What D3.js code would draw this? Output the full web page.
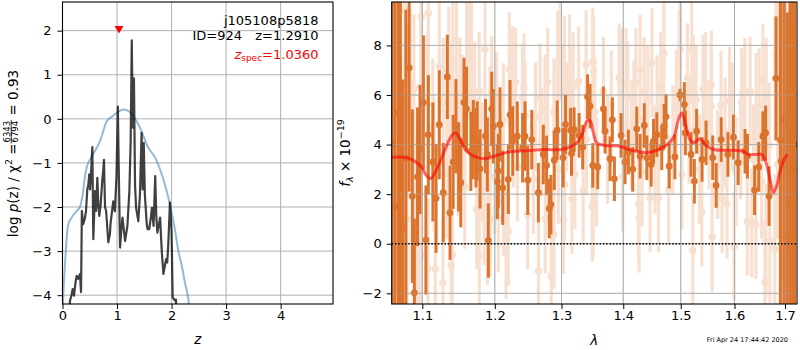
<!DOCTYPE html>
<html>
<head>
<meta charset="utf-8">
<script src="https://cdn.jsdelivr.net/npm/d3@7"></script>
<style>
  body { margin: 0; background: #fff; }
  text { font-family: "DejaVu Sans", sans-serif; }
</style>
</head>
<body>
<div id="chart"></div>
<script>
// ---- p(z) panel ----
var pzZ   = [0.10, 0.138, 0.165, 0.187, 0.211, 0.24, 0.26, 0.29, 0.32, 0.34, 0.355, 0.38, 0.413, 0.431, 0.455, 0.474, 0.49, 0.505, 0.525, 0.547, 0.565, 0.58, 0.596, 0.615, 0.639, 0.655, 0.675, 0.70, 0.73, 0.745, 0.76, 0.78, 0.80, 0.84, 0.87, 0.88, 0.93, 0.96, 0.99, 1.015, 1.03, 1.055, 1.08, 1.10, 1.147, 1.19, 1.226, 1.25, 1.27, 1.29, 1.31, 1.33, 1.35, 1.39, 1.42, 1.45, 1.47, 1.49, 1.51, 1.545, 1.56, 1.59, 1.62, 1.64, 1.67, 1.70, 1.72, 1.74, 1.79, 1.82, 1.85, 1.90, 1.92, 1.94, 1.97, 2.00, 2.02, 2.06, 2.08, 2.10];
var pzLog = [-5.0, -4.12, -4.0, -3.86, -4.01, -3.7, -3.56, -3.63, -3.52, -3.93, -2.09, -2.39, -2.24, -2.09, -1.6, -1.49, -1.26, -1.6, -1.2, -0.64, -2.73, -2.2, -1.64, -2.09, -1.34, -1.9, -2.2, -1.94, -1.38, -1.2, -0.93, -2.0, -2.09, -2.8, -2.6, -2.39, -1.87, -2.1, -1.3, 0.28, -1.0, -2.92, -2.5, -2.24, -2.77, -2.43, -1.64, -0.5, 1.78, -0.2, 0.92, -1.5, -2.02, -2.32, -1.72, -0.32, -1.6, -0.55, -1.72, -2.39, -2.5, -2.5, -2.24, -2.02, -2.43, -1.3, -2.2, -2.58, -2.24, -3.0, -3.52, -3.18, -3.26, -2.84, -1.9, -2.54, -4.05, -4.12, -4.1, -4.6];
var smoothZ   = [0.0, 0.015, 0.046, 0.077, 0.106, 0.169, 0.26, 0.32, 0.37, 0.41, 0.444, 0.54, 0.69, 0.81, 0.93, 1.12, 1.24, 1.42, 1.57, 1.70, 1.79, 1.88, 1.97, 2.06, 2.125, 2.19, 2.25, 2.31, 2.34];
var smoothLog = [-4.6, -4.0, -3.3, -2.69, -2.39, -2.24, -2.09, -2.0, -1.72, -1.33, -1.1, -0.85, -0.5, -0.06, 0.07, 0.21, 0.15, -0.2, -0.65, -0.88, -1.15, -1.5, -1.94, -2.5, -3.0, -3.35, -3.75, -4.12, -4.5];
var zBest = 1.2910, zSpec = 1.0360, zSpecMark = 2.05;
var zTicks = [0, 1, 2, 3, 4];
var pzTicks = [-4, -3, -2, -1, 0, 1, 2];

// ---- spectrum panel: main spectrum (dark) ----
var specWave = [1.061, 1.0645, 1.0687, 1.0715, 1.0746, 1.0785, 1.0827, 1.0869, 1.0895, 1.0937, 1.097, 1.1014, 1.1047, 1.108, 1.114, 1.1183, 1.1226, 1.128, 1.1335, 1.1372, 1.1415, 1.1453, 1.149, 1.152, 1.1564, 1.1599, 1.166, 1.1694, 1.1731, 1.1749, 1.1789, 1.1867, 1.1893, 1.1907, 1.1955, 1.1979, 1.2036, 1.2051, 1.2075, 1.2114, 1.2196, 1.2221, 1.226, 1.2328, 1.2407, 1.2443, 1.2484, 1.2544, 1.2644, 1.2719, 1.277, 1.281, 1.2836, 1.2887, 1.2933, 1.3025, 1.3063, 1.3143, 1.3157, 1.3198, 1.3278, 1.3335, 1.3413, 1.3453, 1.3497, 1.3578, 1.367, 1.3698, 1.378, 1.3818, 1.3852, 1.3963, 1.403, 1.4086, 1.416, 1.4229, 1.4286, 1.4358, 1.4402, 1.4477, 1.4517, 1.4576, 1.4662, 1.4703, 1.4738, 1.4794, 1.4895, 1.4988, 1.5065, 1.5084, 1.5187, 1.5247, 1.5289, 1.5389, 1.5463, 1.5587, 1.5651, 1.5746, 1.5874, 1.598, 1.607, 1.6204, 1.625, 1.6391, 1.6472, 1.6555, 1.6609, 1.6677, 1.6818, 1.6905, 1.6919, 1.6985, 1.7047, 1.7103, 1.715, 1.7195];
var specFlux = [4.0, 1.5, 5.28, 3.0, 0.62, 3.44, 7.1, 1.92, -1.98, 2.7, 3.8, 5.7, 0.15, 4.4, 3.3, 1.83, 4.8, 2.06, 6.73, 1.25, 3.3, 4.74, 3.1, 2.46, 5.7, 5.44, 3.73, 4.2, 3.87, 4.14, 3.02, 4.34, 3.6, 0.13, 5.44, 4.74, 2.5, 2.93, 4.81, 2.26, 2.6, 5.2, 4.14, 4.34, 3.87, 4.34, 2.56, 4.2, 2.06, 3.6, 3.16, 1.42, 1.58, 3.37, 4.58, 3.47, 4.81, 4.58, 3.64, 4.6, 4.37, 3.9, 5.93, 5.55, 3.16, 3.1, 5.44, 4.54, 3.43, 5.0, 2.62, 4.37, 3.3, 3.7, 3.0, 4.63, 3.53, 4.77, 3.47, 3.2, 4.14, 4.4, 3.87, 4.74, 5.12, 3.13, 3.5, 6.0, 5.62, 4.47, 3.6, 2.52, 4.54, 3.4, 4.07, 3.47, 2.35, 4.2, 3.6, 4.3, 3.27, 3.73, 3.53, 2.16, 3.1, 4.34, 4.47, 1.92, 6.67, 4.18, 3.33, 5.0, 0.33, 1.58, 1.79, 4.0];
var specErr  = [9, 9, 8, 7, 6, 6, 5, 3.5, 3, 2.8, 2.6, 2.7, 2.2,
                2.4, 2.4, 2.2, 2.2, 2.0, 1.7, 1.9, 1.9, 1.9, 1.8, 1.8, 1.8, 1.7,
                1.6, 1.6, 1.6, 1.6, 1.6,
                1.5, 1.5, 1.5, 1.5, 1.5, 1.5, 1.5, 1.5, 1.5,
                1.4, 1.4, 1.4, 1.4, 1.4, 1.4, 1.4,
                1.2, 1.2, 1.2, 1.2, 1.2, 1.2, 1.2, 1.2, 1.2, 1.2,
                0.9, 0.9, 0.9, 0.9, 0.9, 0.9, 0.9, 0.9, 0.9, 0.9,
                0.9, 0.9, 0.9, 0.9, 0.9, 0.9, 0.9, 0.9, 0.9, 0.9,
                0.9, 0.9, 0.9, 0.9, 0.9, 0.9, 0.9, 0.9, 0.9, 0.9,
                0.25,
                0.9, 0.9, 0.9, 0.9, 0.9, 0.9, 0.9, 0.9, 0.9, 0.9, 0.9, 0.9, 0.9, 0.9, 0.9,
                1.0, 1.0, 1.0, 1.1, 1.2, 2.5,
                8, 8, 9, 9, 9, 9, 9];

// ---- spectrum panel: second spectrum (faint) ----
var spec2Wave = [1.066, 1.072, 1.077, 1.08, 1.081, 1.0847, 1.089, 1.0902, 1.0915, 1.0937, 1.095, 1.097, 1.098, 1.0982, 1.0985, 1.1064, 1.1074, 1.108, 1.1139, 1.1155, 1.1172, 1.1226, 1.1275, 1.128, 1.133, 1.1355, 1.1372, 1.1387, 1.1405, 1.141, 1.146, 1.1483, 1.1508, 1.1545, 1.1575, 1.16, 1.1636, 1.1663, 1.167, 1.1713, 1.1742, 1.1777, 1.1778, 1.182, 1.1846, 1.186, 1.1893, 1.1907, 1.1931, 1.1935, 1.1955, 1.1998, 1.2026, 1.2051, 1.2124, 1.2128, 1.2162, 1.2196, 1.221, 1.2255, 1.2269, 1.2304, 1.233, 1.2405, 1.2428, 1.2445, 1.2482, 1.257, 1.26, 1.2645, 1.2669, 1.269, 1.2745, 1.2749, 1.2786, 1.2841, 1.2882, 1.2883, 1.294, 1.295, 1.298, 1.3025, 1.3031, 1.3045, 1.3048, 1.3078, 1.3125, 1.3157, 1.3163, 1.3183, 1.321, 1.327, 1.3342, 1.339, 1.3395, 1.3488, 1.3496, 1.3504, 1.351, 1.353, 1.356, 1.367, 1.374, 1.38, 1.393, 1.397, 1.399, 1.4048, 1.4075, 1.414, 1.418, 1.4215, 1.4256, 1.4268, 1.4286, 1.432, 1.4356, 1.442, 1.4458, 1.449, 1.4545, 1.458, 1.4605, 1.4644, 1.47, 1.4784, 1.486, 1.492, 1.497, 1.499, 1.502, 1.512, 1.515, 1.52, 1.5219, 1.5228, 1.5279, 1.534, 1.5384, 1.5406, 1.5455, 1.552, 1.556, 1.5561, 1.5575, 1.568, 1.5744, 1.5763, 1.582, 1.5857, 1.5905, 1.5958, 1.5993, 1.603, 1.612, 1.6138, 1.6161, 1.62, 1.6247, 1.6302, 1.6332, 1.637, 1.6416, 1.642, 1.648, 1.653, 1.6555, 1.6595, 1.6615, 1.662, 1.668, 1.6694, 1.68, 1.6793, 1.6818, 1.685, 1.686, 1.692, 1.695, 1.699, 1.704, 1.708, 1.718];
var spec2Flux = [4.0, 2.5, 9.45, 1.0, 5.88, 6.49, 6.25, 1.45, -0.03, -1.48, 1.88, 0.65, 6.35, -0.47, 9.15, 5.62, -1.0, 9.3, 4.68, 3.2, -1.03, 7.16, -1.57, 5.7, 2.8, 6.96, 5.52, -0.87, -0.43, 7.4, 8.2, 3.6, 5.82, 5.12, 2.3, 7.36, 7.46, 6.49, 7.5, 5.75, 1.38, 6.15, -0.47, 3.3, 1.45, 7.83, 0.65, 1.56, 4.85, 0.98, 6.09, 2.7, 5.44, 1.04, 4.98, 1.69, -0.03, 0.51, 7.03, 6.49, 4.47, 6.52, 3.1, 5.88, 6.29, 5.15, 1.18, 2.6, 5.12, -1.1, 5.88, 4.1, 5.42, 1.0, 6.52, -1.3, 0.4, 5.28, 7.19, 3.0, 8.0, 5.88, 0.98, 7.0, 2.39, 5.12, 7.05, 5.66, 1.79, 6.33, 2.8, 6.56, 2.15, 7.23, 4.2, 1.48, 7.33, 1.65, 6.96, 5.3, 2.9, 6.15, 3.8, 5.6, 6.69, 6.49, 2.7, 6.49, 5.95, 4.4, 5.2, 6.49, 1.61, 1.04, 7.03, 2.9, 6.15, 5.8, 1.85, 7.3, 3.4, 5.4, 1.85, 6.33, 7.67, 2.19, 4.2, 5.6, 7.23, 7.83, 2.8, 6.69, 4.6, 7.83, -0.27, 6.22, 5.82, 3.0, 1.29, 6.22, 6.33, 4.4, 6.4, 5.55, 0.28, 3.2, 5.58, 1.83, 4.5, 1.61, 5.75, 5.12, -0.1, 2.9, 4.0, 5.69, 5.35, 6.1, 0.91, 6.15, 0.85, 3.4, 0.78, 5.5, 5.58, 2.5, 6.58, -1.55, 0.1, 6.0, 4.0, 0.1, 6.65, -0.2, 7.67, 3.2, 7.94, 9.04, 2.0, 7.46, 6.83, 4.5, 3.0];
var spec2Err  = [6, 5, 3, 4, 3, 3, 3, 3, 3, 3,
                 3, 3, 3, 3, 3, 2.8, 2.8, 3, 2.8, 2.7,
                 2.7, 2.8, 2.6, 2.6, 2.6, 2.6, 2.6, 2.5, 2.5, 2.6,
                 2.5, 2.5, 2.5, 2.5, 2.5, 2.5, 2.4, 2.4, 2.4, 2.4,
                 2.4, 2.4, 2.4, 2.4, 2.3, 2.4, 2.3, 2.3, 2.3, 2.3,
                 2.3, 2.3, 2.3, 2.2, 2.3, 2.2, 2.2, 2.2, 2.3, 2.3,
                 2.2, 2.2, 2.2, 2.2, 2.2, 2.2, 2.2, 2.2, 2.2, 2.2,
                 2.2, 2.2, 2.2, 2.2, 2.2, 2.2, 2.2, 2.2, 2.2, 2.2,
                 2.2, 2.2, 2.2, 2.2, 2.2, 2.2, 2.2, 2.2, 2.2, 2.2,
                 2.2, 2.2, 2.2, 2.2, 2.2, 2.2, 2.2, 2.2, 2.2, 2.2,
                 2.2, 2.2, 2.2, 2.2, 2.2, 2.2, 2.2, 2.2, 2.2, 2.2,
                 2.2, 2.2, 2.2, 2.2, 2.2, 2.2, 2.2, 2.2, 2.2, 2.2,
                 2.2, 2.2, 2.2, 2.2, 2.2, 2.2, 2.2, 2.2, 2.2, 2.2,
                 2.2, 2.2, 2.2, 2.2, 2.2, 2.2, 2.2, 2.2, 2.2, 2.2,
                 2.2, 2.2, 2.2, 2.2, 2.2, 2.2, 2.2, 2.2, 2.2, 2.2,
                 2.2, 2.2, 2.2, 2.2, 2.2, 2.2, 2.2, 2.2, 2.2, 2.2,
                 2.2, 2.2, 2.2, 2.2, 2.3, 2.3, 2.3, 2.5, 2.3, 2.3,
                 2.5, 2.5, 2.5, 3, 3, 3, 3, 3.5, 3.5, 3.5,
                 4, 5, 6];

// ---- model (best fit template) ----
var modelWave = [1.0603, 1.0623, 1.0797, 1.097, 1.1058, 1.1111, 1.1191, 1.1304, 1.1396, 1.1452, 1.1508, 1.1601, 1.1717, 1.186, 1.2027, 1.2221, 1.2518, 1.2745, 1.3002, 1.316, 1.3266, 1.3346, 1.3401, 1.3453, 1.3507, 1.3562, 1.3698, 1.3919, 1.4144, 1.4402, 1.4576, 1.472, 1.4868, 1.4959, 1.5019, 1.5079, 1.5169, 1.523, 1.5352, 1.5445, 1.5599, 1.5979, 1.6172, 1.6269, 1.64, 1.6531, 1.6617, 1.6697, 1.6764, 1.6832, 1.6899, 1.7001, 1.7055];
var modelFlux = [3.48, 3.49, 3.47, 3.16, 2.73, 2.63, 3.0, 3.8, 4.37, 4.47, 4.23, 3.73, 3.51, 3.43, 3.56, 3.71, 3.76, 3.8, 3.8, 3.94, 4.14, 4.54, 4.94, 4.97, 4.47, 4.07, 3.96, 3.94, 3.77, 3.67, 3.77, 3.94, 4.27, 5.01, 5.28, 4.88, 4.2, 4.07, 4.23, 4.0, 3.8, 3.77, 3.73, 3.6, 3.6, 3.6, 3.27, 2.59, 2.06, 2.35, 2.93, 3.47, 3.6];
var waveTicks = [1.1, 1.2, 1.3, 1.4, 1.5, 1.6, 1.7];
var fluxTicks = [-2, 0, 2, 4, 6, 8];

var stamp = "Fri Apr 24 17:44:42 2020";

var width = 800, height = 350;
var svg = d3.select("#chart").append("svg")
    .attr("width", width)
    .attr("height", height);

var orange = "#d9681b";
var gridColor = "#b0b0b0";

// ================= left panel =================
var L = {l: 62.5, r: 333, t: 2, b: 304};
var xz = d3.scaleLinear().domain([0, 4.96]).range([L.l, L.r]);
var yz = d3.scaleLinear().domain([-4.2, 2.65]).range([L.b, L.t]);

svg.append("clipPath").attr("id", "clipL")
  .append("rect").attr("x", L.l).attr("y", L.t).attr("width", L.r - L.l).attr("height", L.b - L.t);

var gl = svg.append("g");
gl.selectAll(".gx").data(zTicks).enter().append("line")
  .attr("x1", d => xz(d)).attr("x2", d => xz(d)).attr("y1", L.t).attr("y2", L.b)
  .attr("stroke", gridColor).attr("stroke-width", 1);
gl.selectAll(".gy").data(pzTicks).enter().append("line")
  .attr("x1", L.l).attr("x2", L.r).attr("y1", d => yz(d)).attr("y2", d => yz(d))
  .attr("stroke", gridColor).attr("stroke-width", 1);

var plotL = svg.append("g").attr("clip-path", "url(#clipL)");

// smooth curve
plotL.append("path")
  .datum(d3.zip(smoothZ, smoothLog))
  .attr("fill", "none")
  .attr("stroke", "#1f77b4").attr("stroke-opacity", 0.5)
  .attr("stroke-width", 2)
  .attr("d", d3.line().x(d => xz(d[0])).y(d => yz(d[1])).curve(d3.curveMonotoneX));

// p(z) curve
plotL.append("path")
  .datum(d3.zip(pzZ, pzLog))
  .attr("fill", "none")
  .attr("stroke", "#000").attr("stroke-opacity", 0.75)
  .attr("stroke-width", 2.2)
  .attr("stroke-linejoin", "round")
  .attr("d", d3.line().x(d => xz(d[0])).y(d => yz(d[1])));

// z_spec marker
svg.append("path")
  .attr("d", d3.symbol().type(d3.symbolTriangle).size(34)())
  .attr("transform", "translate(" + xz(zSpec) + "," + yz(zSpecMark) + ") rotate(180)")
  .attr("fill", "red");

svg.append("g").attr("transform", "translate(0," + L.b + ")")
  .call(d3.axisBottom(xz).tickValues(zTicks).tickSize(5).tickPadding(1.5).tickFormat(d3.format("d")))
  .call(g => g.select(".domain").remove())
  .selectAll("text").attr("font-size", 13).attr("fill", "#000");
svg.append("g").attr("transform", "translate(" + L.l + ",0)")
  .call(d3.axisLeft(yz).tickValues(pzTicks).tickSize(5).tickPadding(6).tickFormat(d3.format("d")))
  .call(g => g.select(".domain").remove())
  .selectAll("text").attr("font-size", 13).attr("fill", "#000");

svg.append("rect").attr("x", L.l).attr("y", L.t).attr("width", L.r - L.l).attr("height", L.b - L.t)
  .attr("fill", "none").attr("stroke", "#000").attr("stroke-width", 1.1);

// annotation
svg.append("text").attr("x", 318.5).attr("y", 24.5).attr("text-anchor", "end")
  .attr("font-size", 13).text("j105108p5818");
svg.append("text").attr("x", 242).attr("y", 39.5).attr("text-anchor", "end")
  .attr("font-size", 13).text("ID=924");
svg.append("text").attr("x", 318.5).attr("y", 39.5).attr("text-anchor", "end")
  .attr("font-size", 13).text("z=" + zBest.toFixed(4));
var zs = svg.append("text").attr("x", 318.5).attr("y", 58.5).attr("text-anchor", "end")
  .attr("font-size", 13).attr("fill", "red");
zs.append("tspan").attr("font-style", "italic").text("z");
zs.append("tspan").attr("font-size", 9).attr("dy", 2.5).text("spec");
zs.append("tspan").attr("dy", -2.5).text("=" + zSpec.toFixed(4));

// x label
svg.append("text").attr("x", (L.l + L.r) / 2).attr("y", 344).attr("text-anchor", "middle")
  .attr("font-size", 13.5).attr("font-style", "italic").text("z");

// y label with fraction
var ylab = svg.append("g");
var t1 = ylab.append("text").attr("font-size", 13.5);
t1.append("tspan").text("log ");
t1.append("tspan").attr("font-style", "italic").text("p");
t1.append("tspan").text("(z) / χ");
t1.append("tspan").attr("font-size", 9.5).attr("dy", -5.5).text("2");
t1.append("tspan").attr("dy", 5.5).text(" = ");
var w1 = t1.node().getComputedTextLength();
var num = ylab.append("text").attr("font-size", 8.5).attr("y", -7.5).text("6343");
var den = ylab.append("text").attr("font-size", 8.5).attr("y", 0).text("6794");
var wf = Math.max(num.node().getComputedTextLength(), den.node().getComputedTextLength()) + 2;
num.attr("x", w1 + wf / 2).attr("text-anchor", "middle");
den.attr("x", w1 + wf / 2).attr("text-anchor", "middle");
ylab.append("line").attr("x1", w1).attr("x2", w1 + wf).attr("y1", -6.3).attr("y2", -6.3)
  .attr("stroke", "#000").attr("stroke-width", 0.8);
var t3 = ylab.append("text").attr("font-size", 13.5).attr("x", w1 + wf).text(" = 0.93");
t3.attr("xml:space", "preserve");
var wTot = w1 + wf + t3.node().getComputedTextLength();
ylab.attr("transform", "translate(17.5," + (153.5 + wTot / 2) + ") rotate(-90)");

// ================= right panel =================
var R = {l: 391.7, r: 797, t: 2, b: 304};
var xl = d3.scaleLog().domain([1.0603, 1.7246]).range([R.l, R.r]);
var yl = d3.scaleLinear().domain([-2.43, 9.75]).range([R.b, R.t]);

svg.append("clipPath").attr("id", "clipR")
  .append("rect").attr("x", R.l).attr("y", R.t).attr("width", R.r - R.l).attr("height", R.b - R.t);

var plotR = svg.append("g").attr("clip-path", "url(#clipR)");

var faint = d3.range(spec2Wave.length).map(i => ({w: spec2Wave[i], f: spec2Flux[i], e: spec2Err[i]}));
var main = d3.range(specWave.length).map(i => ({w: specWave[i], f: specFlux[i], e: specErr[i]}));

var gFaint = plotR.append("g").attr("opacity", 0.2);
gFaint.selectAll("line").data(faint).enter().append("line")
  .attr("x1", d => xl(d.w)).attr("x2", d => xl(d.w))
  .attr("y1", d => yl(d.f - d.e)).attr("y2", d => yl(d.f + d.e))
  .attr("stroke", orange).attr("stroke-width", 3.2);
gFaint.selectAll("circle").data(faint).enter().append("circle")
  .attr("cx", d => xl(d.w)).attr("cy", d => yl(d.f)).attr("r", 3.7)
  .attr("fill", orange);

// grid (drawn over the faint spectrum)
var gr = svg.append("g");
gr.selectAll(".gx").data(waveTicks).enter().append("line")
  .attr("x1", d => xl(d)).attr("x2", d => xl(d)).attr("y1", R.t).attr("y2", R.b)
  .attr("stroke", gridColor).attr("stroke-width", 1);
gr.selectAll(".gy").data(fluxTicks).enter().append("line")
  .attr("x1", R.l).attr("x2", R.r).attr("y1", d => yl(d)).attr("y2", d => yl(d))
  .attr("stroke", gridColor).attr("stroke-width", 1);

var plotR2 = svg.append("g").attr("clip-path", "url(#clipR)");
var gMain = plotR2.append("g").attr("opacity", 0.9);
gMain.selectAll("line").data(main).enter().append("line")
  .attr("x1", d => xl(d.w)).attr("x2", d => xl(d.w))
  .attr("y1", d => yl(d.f - d.e)).attr("y2", d => yl(d.f + d.e))
  .attr("stroke", orange).attr("stroke-width", 3);
gMain.selectAll("circle").data(main).enter().append("circle")
  .attr("cx", d => xl(d.w)).attr("cy", d => yl(d.f)).attr("r", 3.4)
  .attr("fill", orange);

// redraw grid faintly on top so it shows through
var gr2 = plotR2.append("g").attr("opacity", 0.45);
gr2.selectAll(".gx").data(waveTicks).enter().append("line")
  .attr("x1", d => xl(d)).attr("x2", d => xl(d)).attr("y1", R.t).attr("y2", R.b)
  .attr("stroke", gridColor).attr("stroke-width", 1);
gr2.selectAll(".gy").data(fluxTicks).enter().append("line")
  .attr("x1", R.l).attr("x2", R.r).attr("y1", d => yl(d)).attr("y2", d => yl(d))
  .attr("stroke", gridColor).attr("stroke-width", 1);

// model
plotR2.append("path")
  .datum(d3.zip(modelWave, modelFlux))
  .attr("fill", "none")
  .attr("stroke", "red").attr("stroke-opacity", 0.6)
  .attr("stroke-width", 3)
  .attr("d", d3.line().x(d => xl(d[0])).y(d => yl(d[1])).curve(d3.curveCatmullRom));

// zero line
plotR2.append("line")
  .attr("x1", R.l).attr("x2", R.r).attr("y1", yl(0)).attr("y2", yl(0))
  .attr("stroke", "#000").attr("stroke-width", 1.5).attr("stroke-dasharray", "1.5,1.8");

svg.append("g").attr("transform", "translate(0," + R.b + ")")
  .call(d3.axisBottom(xl).tickValues(waveTicks).tickSize(5).tickPadding(1.5).tickFormat(d3.format(".1f")))
  .call(g => g.select(".domain").remove())
  .selectAll("text").attr("font-size", 13).attr("fill", "#000");
svg.append("g").attr("transform", "translate(" + R.l + ",0)")
  .call(d3.axisLeft(yl).tickValues(fluxTicks).tickSize(5).tickPadding(5).tickFormat(d3.format("d")))
  .call(g => g.select(".domain").remove())
  .selectAll("text").attr("font-size", 13).attr("fill", "#000");

svg.append("rect").attr("x", R.l).attr("y", R.t).attr("width", R.r - R.l).attr("height", R.b - R.t)
  .attr("fill", "none").attr("stroke", "#000").attr("stroke-width", 1.1);

// labels
svg.append("text").attr("x", (R.l + R.r) / 2).attr("y", 345).attr("text-anchor", "middle")
  .attr("font-size", 13.5).attr("font-style", "italic").text("λ");

var fl = svg.append("text").attr("transform", "translate(350,153) rotate(-90)")
  .attr("text-anchor", "middle").attr("font-size", 13.5);
fl.append("tspan").attr("font-style", "italic").text("f");
fl.append("tspan").attr("font-style", "italic").attr("font-size", 9.5).attr("dy", 3).text("λ");
fl.append("tspan").attr("dy", -3).text(" × 10");
fl.append("tspan").attr("font-size", 9.5).attr("dy", -6).text("−19");

svg.append("text").attr("x", 788).attr("y", 342).attr("text-anchor", "end")
  .attr("font-size", 6.5).text(stamp);
</script>
</body>
</html>
